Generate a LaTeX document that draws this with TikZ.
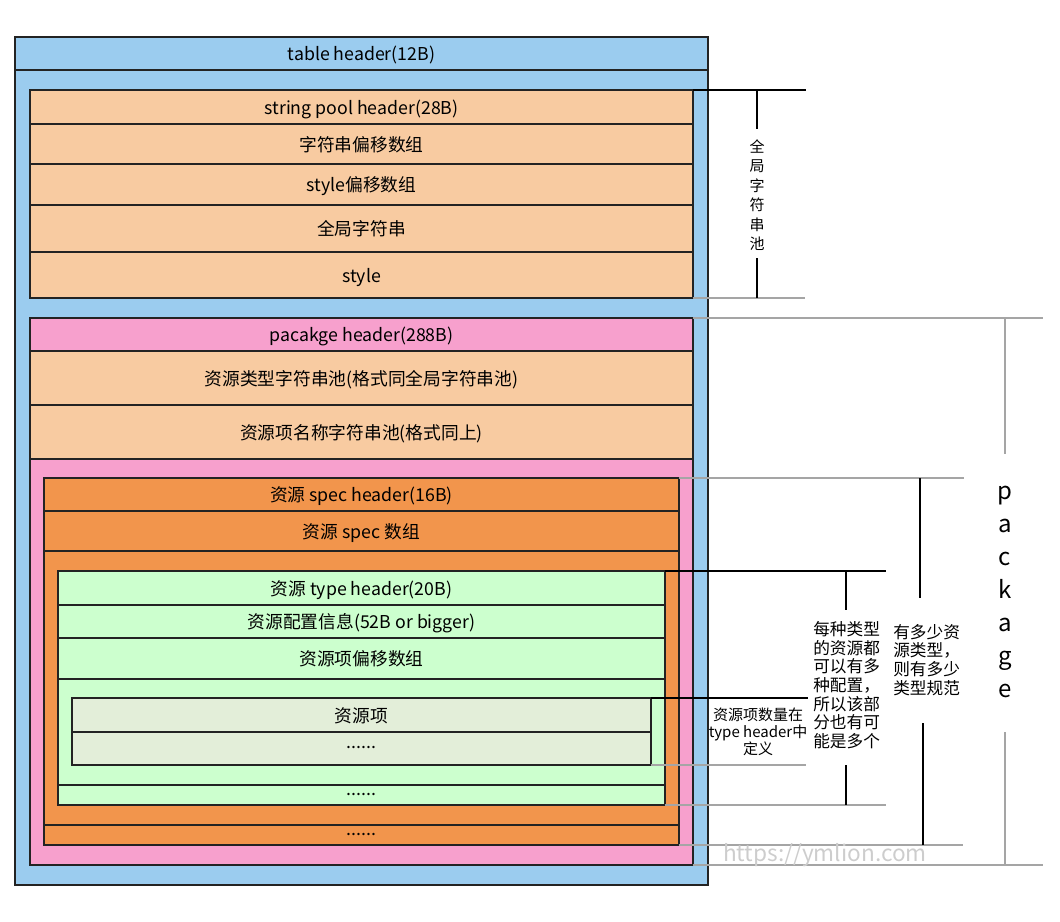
\documentclass[tikz,border=0pt]{standalone}
\usepackage{fontspec}
\setmainfont{Noto Sans CJK SC}
\usetikzlibrary{positioning}
\definecolor{tblblue}{RGB}{155,204,239}
\definecolor{poolpeach}{RGB}{248,203,161}
\definecolor{pkgpink}{RGB}{247,160,205}
\definecolor{specorange}{RGB}{242,149,76}
\definecolor{typegreen}{RGB}{204,255,206}
\definecolor{entrygray}{RGB}{227,238,217}
\definecolor{boxline}{RGB}{35,35,35}
\definecolor{guidegray}{RGB}{165,165,165}
\definecolor{markgray}{RGB}{205,205,205}
\newcommand{\pu}{0.75pt}

\begin{document}
\begin{tikzpicture}[
    x=0.75pt, y=-0.75pt,
    frame/.style={draw=boxline, line width=1pt, outer sep=0pt, inner sep=0pt, anchor=north west},
    row/.style={frame, font=\fontsize{13.3}{15}\selectfont, text height=1.1em, text depth=0.04em},
    dots/.style={text height=0.05em, text depth=0.05em},
    rowh/.style={minimum height=#1*\pu},
    poolrow/.style={row, fill=poolpeach, minimum width=663*\pu},
    specrow/.style={row, fill=specorange, minimum width=635*\pu},
    typerow/.style={row, fill=typegreen, minimum width=607*\pu},
    entryrow/.style={row, fill=entrygray, minimum width=579*\pu},
    guide/.style={draw=black, line width=0.8pt},
    guidelt/.style={draw=guidegray, line width=1.1pt},
    note/.style={font=\fontsize{12.5}{14}\selectfont, align=left, inner sep=0pt},
    vtext/.style={align=center, inner sep=0pt}
]
\useasboundingbox (0,0) rectangle (1060,921);

% table
\node[frame, fill=tblblue, minimum width=693*\pu, minimum height=848*\pu] (tbl) at (15,37) {};
\node[row, fill=tblblue, minimum width=693*\pu, rowh=33] (tblhdr) at (15,37) {table header(12B)};

% global string pool
\node[poolrow, rowh=34] (sphdr) at (30,90) {string pool header(28B)};
\node[poolrow, rowh=40, below=0pt of sphdr] (spoff) {字符串偏移数组};
\node[poolrow, rowh=41, below=0pt of spoff] (styoff) {style偏移数组};
\node[poolrow, rowh=47, below=0pt of styoff] (spstr) {全局字符串};
\node[poolrow, rowh=46, below=0pt of spstr] (spsty) {style};

% package
\node[frame, fill=pkgpink, minimum width=663*\pu, minimum height=547*\pu] (pkg) at (30,318) {};
\node[row, fill=pkgpink, minimum width=663*\pu, rowh=33] (pkghdr) at (30,318) {pacakge header(288B)};
\node[poolrow, rowh=54, below=0pt of pkghdr] (typepool) {资源类型字符串池(格式同全局字符串池)};
\node[poolrow, rowh=54, below=0pt of typepool] (keypool) {资源项名称字符串池(格式同上)};

% spec
\node[frame, fill=specorange, minimum width=635*\pu, minimum height=367*\pu] (spec) at (44,478) {};
\node[specrow, rowh=33] (spechdr) at (44,478) {资源 spec header(16B)};
\node[specrow, rowh=40, below=0pt of spechdr] (specarr) {资源 spec 数组};
\node[specrow, dots, rowh=20, anchor=south] (specmore) at (spec.south) {......};

% type
\node[frame, fill=typegreen, minimum width=607*\pu, minimum height=234*\pu] (type) at (58,571) {};
\node[typerow, rowh=34] (typehdr) at (58,571) {资源 type header(20B)};
\node[typerow, rowh=33, below=0pt of typehdr] (config) {资源配置信息(52B or bigger)};
\node[typerow, rowh=41, below=0pt of config] (entryoff) {资源项偏移数组};
\node[typerow, dots, rowh=20, anchor=south] (typemore) at (type.south) {......};

% entries
\node[entryrow, rowh=34] (entry) at (72,698) {资源项};
\node[entryrow, dots, rowh=33, below=0pt of entry] (entrymore) {......};

% global string pool mark
\draw[guide] (sphdr.north east) -- ++(113,0);
\draw[guidelt] (spsty.south east) -- ++(112,0);
\node[vtext, font=\fontsize{11.25}{14.6}\selectfont] (pooltxt) at (757,195) {全\\局\\字\\符\\串\\池};
\draw[guide] (pooltxt.north |- sphdr.north) -- ++(0,39);
\draw[guide] (pooltxt.south |- spsty.south) -- ++(0,-40);

% package mark
\draw[guidelt] (pkghdr.north east) -- ++(350,0);
\draw[guidelt] (pkg.south east) -- ++(350,0);
\node[vtext, font=\fontsize{18}{24.75}\selectfont] (pkgtxt) at (1005,592) {p\\a\\c\\k\\a\\g\\e};
\draw[guidelt] (pkgtxt.north |- pkghdr.north) -- ++(0,136);
\draw[guidelt] (pkgtxt.south |- pkg.south) -- ++(0,-133);

% spec mark
\draw[guidelt] (spechdr.north east) -- ++(285,0);
\draw[guidelt] (spec.south east) -- ++(284,0);
\node[note, anchor=north west] (spectxt) at (893,624) {有多少资\\源类型，\\则有多少\\类型规范};
\draw[guide] (920,478) -- (920,598);
\draw[guide] (923,723) -- (923,845);

% type mark
\draw[guide] (typehdr.north east) -- ++(221,0);
\draw[guidelt] (type.south east) -- ++(221,0);
\node[note, anchor=north west] (typetxt) at (813,621) {每种类型\\的资源都\\可以有多\\种配置，\\所以该部\\分也有可\\能是多个};
\draw[guide] (846,571) -- (846,610);
\draw[guide] (846,765) -- (846,805);

% entry mark
\draw[guide] (entry.north east) -- ++(157,0);
\draw[guidelt] (entrymore.south east) -- ++(155,0);
\node[align=center, inner sep=0pt, font=\fontsize{11.25}{12.75}\selectfont] (entrytxt) at (758,732) {资源项数量在\\type header中\\定义};

% watermark
\node[text=markgray, font=\fontsize{17}{20}\selectfont, inner sep=0pt] (mark) at (825,855) {https://ymlion.com};
\end{tikzpicture}
\end{document}
